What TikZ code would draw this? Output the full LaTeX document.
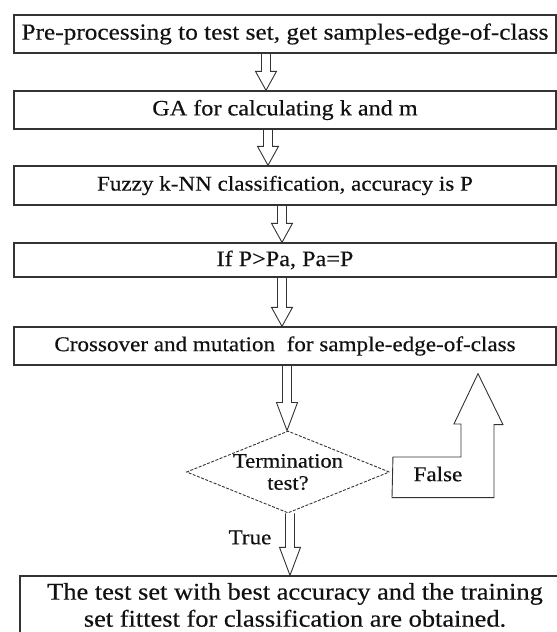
\documentclass[tikz,border=0pt]{standalone}
\usepackage{fontspec}
\setmainfont{Liberation Serif}[FakeStretch=1.1,FakeBold=0.4]
\usepackage{xcolor}
\usepackage{tikz}
\usetikzlibrary{shapes.geometric,calc}
\definecolor{edge}{HTML}{333333}
\definecolor{ink}{HTML}{111111}
\tikzset{
  hlen/.store in=\hlen, hlen=19pt,
  box/.style={draw=edge, line width=1.3pt, minimum width=542pt, minimum height=38pt,
    inner sep=0pt, text=ink, font=\fontsize{22}{28}\selectfont},
  test/.style={shape=diamond, draw=edge, dash pattern=on 3pt off 1.5pt, line width=0.9pt,
    aspect=2.5, minimum width=203pt, minimum height=82pt, inner sep=-10pt,
    align=center, text=ink, font=\fontsize{20.5}{22}\selectfont},
  lab/.style={text=ink, font=\fontsize{21}{24}\selectfont},
  fat/.style={draw=edge, line width=0.9pt, to path={
    let \p1=(\tikztostart), \p2=(\tikztotarget) in
    (\x1-4.5pt,\y1) -- (\x1-4.5pt,\y2+\hlen) -- (\x1-10.5pt,\y2+\hlen) -- (\x1,\y2)
    -- (\x1+10.5pt,\y2+\hlen) -- (\x1+4.5pt,\y2+\hlen) -- (\x1+4.5pt,\y1)}},
}

\begin{document}
\begin{tikzpicture}[x=1pt,y=1pt]
  \useasboundingbox (0,0) rectangle (557,632);

  \node[box, font=\fontsize{23}{28}\selectfont] (prep) at (285,598) {Pre-processing to test set, get samples-edge-of-class};
  \node[box] (ga) at (285,522) {GA for calculating k and m};
  \node[box, minimum height=39pt, font=\fontsize{21}{28}\selectfont] (knn) at (285,446.5) {Fuzzy k-NN classification, accuracy is P};
  \node[box, minimum height=34pt] (upd) at (285,372) {If P>Pa, Pa=P};
  \node[box, font=\fontsize{21}{28}\selectfont] (cross) at (285,286) {Crossover and mutation\ \ for sample-edge-of-class};
  \node[test] (term) at (288,160) {Termination\\test?};
  \node[box, minimum width=550pt, minimum height=58pt, align=center,
    font=\fontsize{24}{27}\selectfont] (done) at (295,27)
    {The test set with best accuracy and the training\\set fittest for classification are obtained.};

  \draw[fat] ([xshift=-19pt]prep.south) to ([xshift=-19pt]ga.north);
  \draw[fat] ([xshift=-17pt]ga.south) to ([xshift=-17pt]knn.north);
  \draw[fat] ([xshift=-3pt]knn.south) to ([xshift=-3pt]upd.north);
  \draw[fat] ([xshift=-3pt]upd.south) to ([xshift=-3pt]cross.north);
  \draw[fat, hlen=28pt] ([xshift=2pt]cross.south) to (term.north);
  \draw[fat, hlen=28pt] ([xshift=2pt]term.south) to ([xshift=-5pt]done.north);

  % loop back when the test fails
  \coordinate (back) at ([shift={(193,-8)}]cross.south);
  \draw[fat] ([shift={(3,15)}]term.east) -- ++(68,0) -- ++(0,33) -- ++(-7,0) -- (back)
    -- ++(25,-51) -- ++(-9,0) -- ++(0,-73) -- ++(-102,0) -- cycle;

  \node[lab] (falselbl) at ([shift={(48,-2)}]term.east) {False};
  \node[lab] (truelbl) at ([shift={(-38,-24)}]term.south) {True};
\end{tikzpicture}
\end{document}
